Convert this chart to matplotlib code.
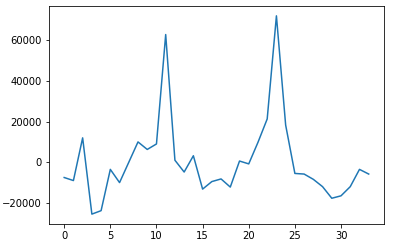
import matplotlib
matplotlib.use("Agg")
from matplotlib import pyplot as plt
import numpy as np

x = np.arange(34)
values = [-7500, -9000, 12000, -25500, -23800, -3500, -10000, 0, 10000, 6300,
          9000, 62800, 1000, -4800, 3200, -13200, -9500, -8200, -12200, 600,
          -800, 9800, 21300, 72000, 18300, -5500, -5800, -8400, -12000, -17700,
          -16500, -12000, -3500, -5800]

fig = plt.figure(figsize=(408 / 72, 247 / 72), dpi=72)
ax = fig.add_axes([0.12, 0.093, 0.821, 0.883])
ax.plot(x, values, color='#1f77b4', linewidth=1.5)
ax.set_xticks([0, 5, 10, 15, 20, 25, 30])
ax.set_yticks([-20000, 0, 20000, 40000, 60000])
ax.tick_params(labelsize=10)

fig.savefig('out.png', dpi=72)
